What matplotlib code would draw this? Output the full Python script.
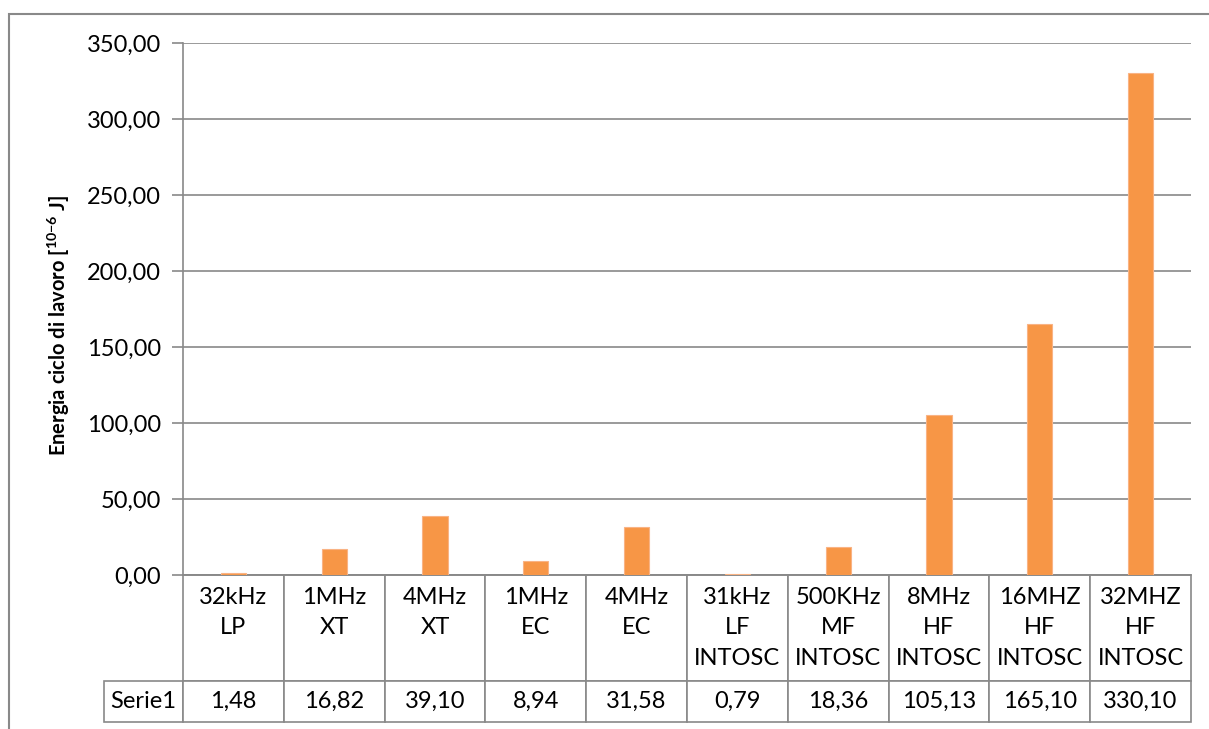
import numpy as np
import matplotlib
matplotlib.use("Agg")
import matplotlib.pyplot as plt
from matplotlib.ticker import FuncFormatter, MultipleLocator
from matplotlib.patches import Rectangle

plt.rcParams["font.family"] = ["Lato", "DejaVu Sans"]
plt.rcParams["mathtext.fontset"] = "custom"
plt.rcParams["mathtext.rm"] = "Lato"
plt.rcParams["mathtext.bf"] = "Lato:bold"

# data
categories = ["32kHz\nLP", "1MHz\nXT", "4MHz\nXT", "1MHz\nEC", "4MHz\nEC",
              "31kHz\nLF\nINTOSC", "500KHz\nMF\nINTOSC", "8MHz\nHF\nINTOSC",
              "16MHZ\nHF\nINTOSC", "32MHZ\nHF\nINTOSC"]
series_name = "Serie1"
values = [1.48, 16.82, 39.10, 8.94, 31.58, 0.79, 18.36, 105.13, 165.10, 330.10]

GRAY = "#898989"
ORANGE = "#F79646"
FS = 17

W, H = 1209, 729
fig = plt.figure(figsize=(W / 100, H / 100), dpi=100)

# axes in pixel layout
left, right, top, bottom = 183, 1191, 43, 575
ax_w = right - left
ax_h = bottom - top
ax = fig.add_axes([left / W, 1 - bottom / H, ax_w / W, ax_h / H])

x = np.arange(len(values))
ax.bar(x, values, width=0.25, color=ORANGE, edgecolor="#F9B384", linewidth=0.8, zorder=3)
ax.set_xlim(-0.5, len(values) - 0.5)
ax.set_ylim(0, 350)
ax.yaxis.set_major_locator(MultipleLocator(50))
ax.yaxis.set_major_formatter(FuncFormatter(lambda v, p: f"{v:.2f}".replace(".", ",")))
ax.grid(axis="y", color=GRAY, linewidth=1.2, zorder=0)
ax.tick_params(axis="y", length=8, width=1.2, color=GRAY, labelsize=FS, pad=8)
ax.tick_params(axis="x", length=0, labelbottom=False)
for s in ["top", "right"]:
    ax.spines[s].set_visible(False)
ax.spines["left"].set_color(GRAY)
ax.spines["left"].set_linewidth(1.2)
ax.spines["bottom"].set_color(GRAY)
ax.spines["bottom"].set_linewidth(1.2)

ax.set_ylabel(r"Energia ciclo di lavoro [$\mathbf{^{10{-}6}}$ J]", fontsize=14.5,
              fontweight="bold", va="center")
ax.yaxis.set_label_coords((59 - left) / ax_w, (bottom - 326) / ax_h)

# data table right under the axis; sizes in axes fractions
label_w = 80 / ax_w
head_h = 106 / ax_h
row_h = 41 / ax_h
col_labels = [c if c.count("\n") == 2 else c + "\n" for c in categories]
cell_text = [[f"{v:.2f}".replace(".", ",") for v in values]]
tbl = ax.table(cellText=cell_text, rowLabels=[series_name], colLabels=col_labels,
               cellLoc="center", rowLoc="center", loc="bottom")
tbl.auto_set_font_size(False)
tbl.set_fontsize(FS)
for (r, c), cell in tbl.get_celld().items():
    cell.set_edgecolor(GRAY)
    cell.set_linewidth(1.2)
    cell.set_width(label_w if c == -1 else 1 / len(values))
    cell.set_height(head_h if r == 0 else row_h)
    cell.get_text().set_linespacing(1.55)
    if c == -1:
        cell.get_text().set_ha("center")

# outer chart frame (cropped on right and bottom)
fig.patches.append(Rectangle((9 / W, -0.2), 1.5, 1.2 - 14 / H, transform=fig.transFigure,
                             fill=False, edgecolor=GRAY, linewidth=1.5))

fig.savefig("out.png", dpi=100)
